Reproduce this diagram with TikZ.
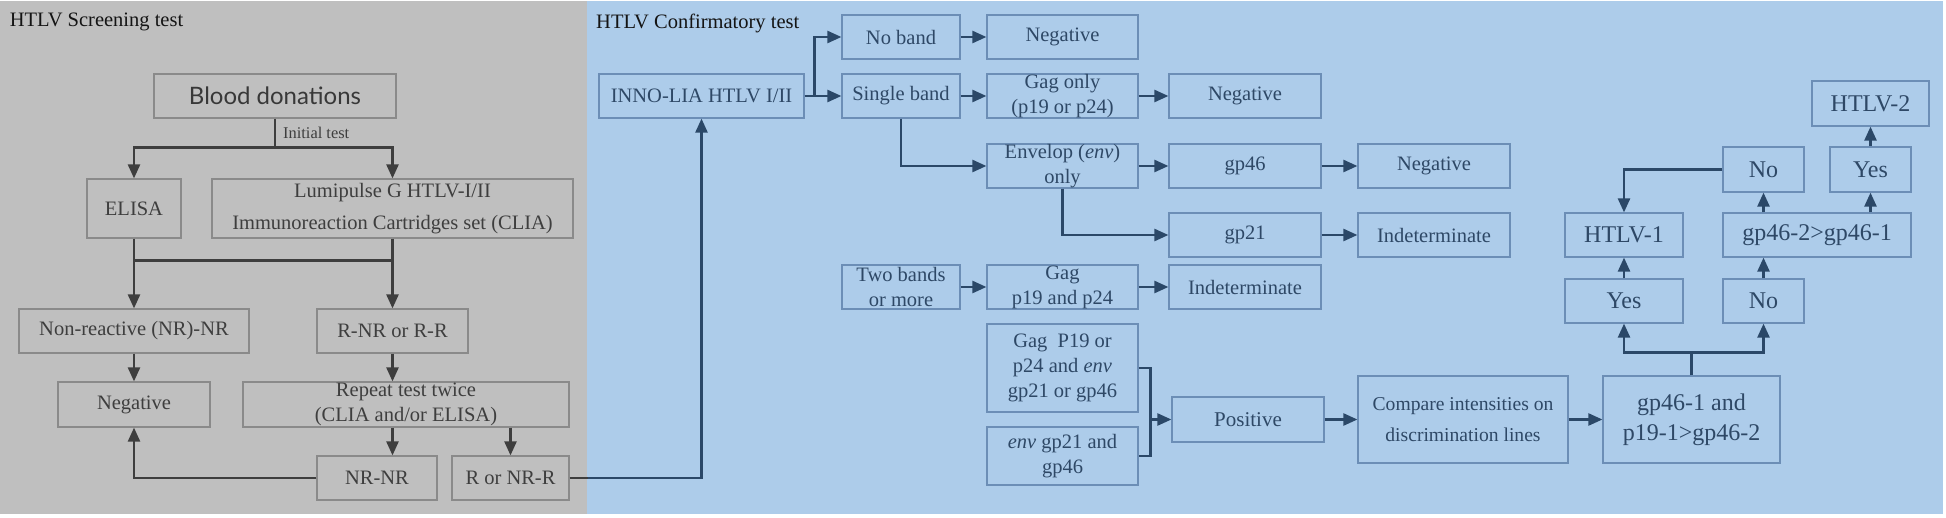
\documentclass[tikz,border=0pt]{standalone}
\usepackage{fontspec}
\setmainfont{Liberation Serif}
\newfontfamily\boxfont{Liberation Serif}
\newfontfamily\latofont{Lato}
\usetikzlibrary{arrows.meta}

\definecolor{screenbg}{RGB}{191,191,191}
\definecolor{confbg}{RGB}{173,204,234}
\definecolor{screenline}{RGB}{138,138,138}
\definecolor{screentext}{RGB}{62,62,62}
\definecolor{screenarrow}{RGB}{62,62,62}
\definecolor{confline}{RGB}{108,142,182}
\definecolor{conftext}{RGB}{46,72,102}
\definecolor{confarrow}{RGB}{43,72,104}

\begin{document}
\begin{tikzpicture}[x=1pt,y=-1pt,
	boxsize/.style 2 args={minimum width=#1pt,minimum height=#2pt},
	sbox/.style={draw=screenline,line width=1.2pt,text=screentext,inner sep=0pt,align=center,font=\boxfont\fontsize{20.5}{25}\selectfont},
	cbox/.style={draw=confline,line width=1.2pt,text=conftext,inner sep=0pt,align=center,font=\boxfont\fontsize{20.5}{25}\selectfont},
	bigtext/.style={font=\boxfont\fontsize{24}{30}\selectfont},
	title/.style={anchor=west,inner sep=0pt,text=black!92,font=\boxfont\fontsize{20.5}{25}\selectfont},
	sline/.style={draw=screenarrow,line width=2.4pt},
	cline/.style={draw=confarrow,line width=2.4pt},
	sarrow/.style={sline,-{Triangle[length=14pt,width=12pt]}},
	carrow/.style={cline,-{Triangle[length=14pt,width=12pt]}}
	]
	\useasboundingbox (0,0) rectangle (1946,517);
	\fill[screenbg] (0,1) rectangle (587,514);
	\fill[confbg] (587,1) rectangle (1943,514);

	\node[title] (screentitle) at (9.6,22) {HTLV Screening test};
	\node[title] (conftitle) at (596,23) {HTLV Confirmatory test};

	\node[sbox,boxsize={242}{44},font=\latofont\fontsize{24}{30}\selectfont,text=black!78] (blood) at (275,96) {Blood donations};
	\node[anchor=west,inner sep=0pt,text=screentext,font=\boxfont\fontsize{16.4}{20}\selectfont] (initial) at (283,133) {Initial test};
	\node[sbox,boxsize={94}{59}] (elisa) at (134,208.5) {ELISA};
	\node[sbox,boxsize={361}{59},font=\boxfont\fontsize{20.5}{32}\selectfont] (lumi) at (392.5,208.5) {Lumipulse G HTLV-I/II\\Immunoreaction Cartridges set (CLIA)};
	\node[sbox,boxsize={230}{44}] (nonreact) at (134,331) {Non-reactive (NR)-NR};
	\node[sbox,boxsize={151}{44}] (rnr) at (392.5,331) {R-NR or R-R};
	\node[sbox,boxsize={152}{45}] (negL) at (134,404.5) {Negative};
	\node[sbox,boxsize={326}{45}] (repeat) at (406,404.5) {Repeat test twice\\(CLIA and/or ELISA)};
	\node[sbox,boxsize={120}{44}] (nrnr) at (377,478) {NR-NR};
	\node[sbox,boxsize={117}{44}] (rornr) at (510.5,478) {R or NR-R};

	\node[cbox,boxsize={205}{44}] (inno) at (701.5,96) {INNO-LIA HTLV I/II};
	\node[cbox,boxsize={118}{44}] (noband) at (901,37) {No band};
	\node[cbox,boxsize={151}{44}] (neg1) at (1062.5,37) {Negative};
	\node[cbox,boxsize={118}{44}] (single) at (901,96) {Single band};
	\node[cbox,boxsize={151}{44}] (gagonly) at (1062.5,96) {Gag only\\(p19 or p24)};
	\node[cbox,boxsize={152}{44}] (neg2) at (1245,96) {Negative};
	\node[cbox,boxsize={151}{44}] (envonly) at (1062.5,166) {Envelop (\textit{env})\\only};
	\node[cbox,boxsize={152}{44}] (gp46) at (1245,166) {gp46};
	\node[cbox,boxsize={152}{44}] (neg3) at (1434,166) {Negative};
	\node[cbox,boxsize={152}{44}] (gp21) at (1245,235) {gp21};
	\node[cbox,boxsize={152}{44}] (indet1) at (1434,235) {Indeterminate};
	\node[cbox,boxsize={118}{44}] (twobands) at (901,287) {Two bands\\or more};
	\node[cbox,boxsize={151}{44}] (gagp) at (1062.5,287) {Gag\\p19 and p24};
	\node[cbox,boxsize={152}{44}] (indet2) at (1245,287) {Indeterminate};
	\node[cbox,boxsize={151}{88}] (gagor) at (1062.5,368) {Gag\enspace P19 or\\p24 and \textit{env}\\gp21 or gp46};
	\node[cbox,boxsize={151}{58}] (envgp) at (1062.5,456) {\textit{env} gp21 and\\gp46};
	\node[cbox,boxsize={152}{45},font=\boxfont\fontsize{21}{25}\selectfont] (positive) at (1248,419.5) {Positive};
	\node[cbox,boxsize={210}{87},font=\boxfont\fontsize{19.6}{31}\selectfont] (compare) at (1463,419.5) {Compare intensities on\\discrimination lines};
	\node[cbox,boxsize={177}{87},bigtext] (gpand) at (1691.5,419.5) {gp46-1 and\\p19-1>gp46-2};
	\node[cbox,boxsize={118}{44},bigtext] (yesL) at (1624,301) {Yes};
	\node[cbox,boxsize={81}{44},bigtext] (noL) at (1763.5,301) {No};
	\node[cbox,boxsize={118}{44},bigtext] (htlv1) at (1624,235) {HTLV-1};
	\node[cbox,boxsize={188}{44},bigtext] (gpcmp) at (1817,235) {gp46-2>gp46-1};
	\node[cbox,boxsize={81}{45},bigtext] (noU) at (1763.5,169.5) {No};
	\node[cbox,boxsize={81}{45},bigtext] (yesU) at (1870.5,169.5) {Yes};
	\node[cbox,boxsize={117}{45},bigtext] (htlv2) at (1870.5,103.5) {HTLV-2};

	\draw[sline] (blood.south) -- ++(0,29) coordinate (split);
	\draw[sarrow] (split) -| (elisa.north);
	\draw[sarrow] (split) -| (lumi.north);
	\draw[sarrow] (elisa.south) -- (nonreact.north);
	\draw[sarrow] (lumi.south) -- (rnr.north);
	\draw[sline] ([yshift=-22pt]elisa.south) -- ([yshift=-22pt]lumi.south);
	\draw[sarrow] (nonreact) -- (negL);
	\draw[sarrow] (rnr.south) -- (rnr.south |- repeat.north);
	\draw[sarrow] (rnr.south |- repeat.south) -- (rnr.south |- nrnr.north);
	\draw[sarrow] (rornr.north |- repeat.south) -- (rornr.north);
	\draw[sarrow] (nrnr.west) -| (negL.south);
	\draw[sline] (rornr.east) -- ++(18,0) coordinate (crossing);
	\draw[carrow] (crossing) -| (inno.south);

	\draw[cline] (inno.east) -- ++(10,0) coordinate (fork);
	\draw[carrow] (fork) -- (single.west);
	\draw[carrow] (fork) |- (noband.west);
	\draw[carrow] (noband) -- (neg1);
	\draw[carrow] (single) -- (gagonly);
	\draw[carrow] (gagonly) -- (neg2);
	\draw[carrow] (single.south) |- (envonly.west);
	\draw[carrow] (envonly) -- (gp46);
	\draw[carrow] (gp46) -- (neg3);
	\draw[carrow] (envonly.south) |- (gp21.west);
	\draw[carrow] (gp21) -- (indet1);
	\draw[carrow] (twobands) -- (gagp);
	\draw[carrow] (gagp) -- (indet2);
	\draw[cline] (gagor.east) -- ++(12,0) coordinate (brace) -- (brace |- envgp.east) -- (envgp.east);
	\draw[carrow] (brace |- positive.west) -- (positive.west);
	\draw[carrow] (positive) -- (compare);
	\draw[carrow] (compare) -- (gpand);
	\draw[cline] (gpand.north) -- ++(0,-23) coordinate (fork2);
	\draw[carrow] (fork2) -| (yesL.south);
	\draw[carrow] (fork2) -| (noL.south);
	\draw[carrow] (yesL) -- (htlv1);
	\draw[carrow] (noL.north) -- (noL.north |- gpcmp.south);
	\draw[carrow] (noU.south |- gpcmp.north) -- (noU.south);
	\draw[carrow] (yesU.south |- gpcmp.north) -- (yesU.south);
	\draw[carrow] (yesU) -- (htlv2);
	\draw[carrow] (noU.west) -| (htlv1.north);
\end{tikzpicture}
\end{document}
